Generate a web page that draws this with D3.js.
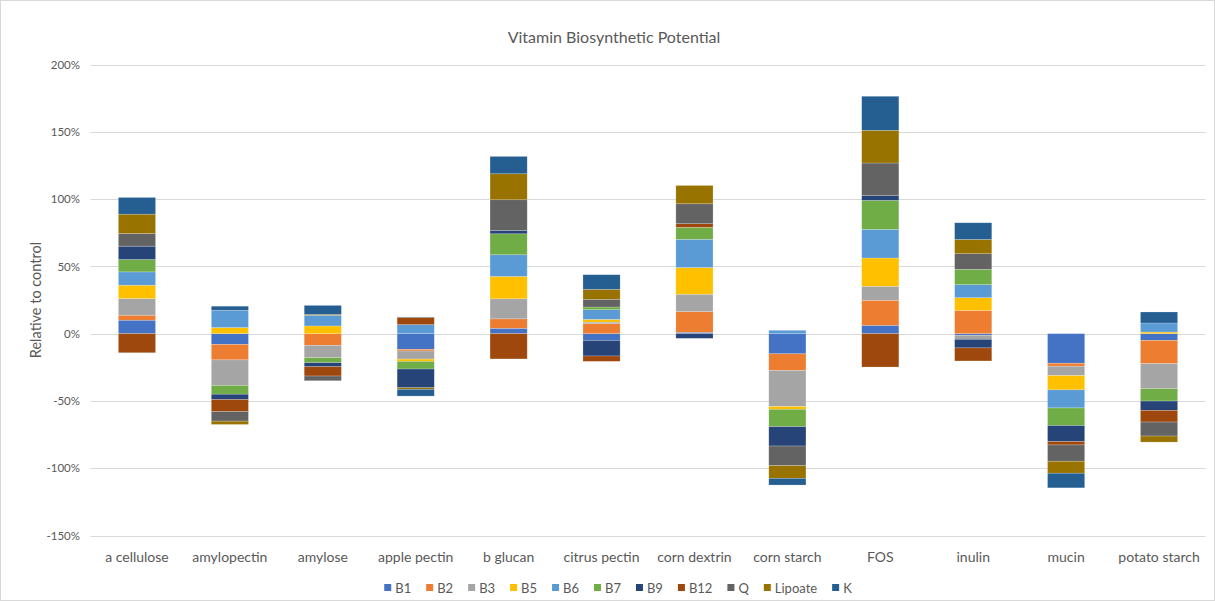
<!DOCTYPE html>
<html>
<head>
<meta charset="utf-8">
<script src="https://cdn.jsdelivr.net/npm/d3@7"></script>
<style>
body { margin: 0; background: #fff; }
svg text { font-family: Lato, "Liberation Sans", sans-serif; fill: #595959; }
</style>
</head>
<body>
<div id="chart"></div>
<script>
var categories = ["a cellulose", "amylopectin", "amylose", "apple pectin", "b glucan", "citrus pectin",
    "corn dextrin", "corn starch", "FOS", "inulin", "mucin", "potato starch"];

var seriesNames = ["B1", "B2", "B3", "B5", "B6", "B7", "B9", "B12", "Q", "Lipoate", "K"];
var seriesColors = ["#4472C4", "#ED7D31", "#A5A5A5", "#FFC000", "#5B9BD5", "#70AD47",
    "#264478", "#9E480E", "#636363", "#997300", "#255E91"];

// valeurs en % par rapport au controle
var B1 = [10, -8, 0, -11.7, 4, -5, 1, -15, 6.2, -1.2, -22, -5];
var B2 = [3.7, -11.5, -8.7, -1.2, 7, 7.4, 15.4, -12.4, 18.6, 17.3, -2.2, -17.3];
var B3 = [12.4, -19, -9.2, -6, 14.9, 1.2, 12.9, -26.8, 10.4, -3, -7, -18.6];
var B5 = [9.9, 4.5, 5.7, -1.7, 16.6, 2, 19.8, -2, 21, 9.4, -10.6, 1.2];
var B6 = [9.9, 12.9, 7.9, 6.7, 16.1, 7.2, 21, 2.5, 21.3, 9.7, -13.4, 6.7];
var B7 = [9.2, -6.5, -3.7, -5.7, 15.6, 2, 8.9, -12.9, 21.5, 11.4, -13.1, -9.2];
var B9 = [9.9, -4, -3, -13.9, 2.5, -11.6, -3.5, -14.4, 3.5, -6.4, -11.9, -6.9];
var B12 = [-14.2, -9, -6.9, 5.2, -18.8, -4, 2.7, 0, -24.8, -9.7, -2.5, -8.7];
var Q = [9.4, -7, -3.5, 0.5, 22.8, 5.7, 14.8, -14.6, 24.3, 11.6, -12.1, -10.4];
var Lipoate = [14.4, -2.5, 0.7, -1.2, 19.3, 7.4, 13.6, -9.4, 24.3, 10.6, -8.9, -4.5];
var K = [12.4, 3, 6.7, -5, 12.9, 10.9, 0, -5, 25.3, 12.4, -10.9, 8.2];

var yTicks = [-150, -100, -50, 0, 50, 100, 150, 200];

var seriesValues = [B1, B2, B3, B5, B6, B7, B9, B12, Q, Lipoate, K];

var largeur = 1215, hauteur = 601;
var marge = { gauche: 90.5, droite: 1205.5, haut: 64.5, bas: 535.5 };

var svg = d3.select("#chart").append("svg")
    .attr("width", largeur)
    .attr("height", hauteur);

svg.append("rect")
    .attr("x", 0.5).attr("y", 0.5)
    .attr("width", largeur - 1).attr("height", hauteur - 1)
    .attr("fill", "#fff")
    .attr("stroke", "#d9d9d9");

// table pour d3.stack
var table = categories.map(function (c, i) {
    var ligne = { cat: c };
    seriesNames.forEach(function (s, j) { ligne[s] = seriesValues[j][i]; });
    return ligne;
});

var stack = d3.stack().keys(seriesNames).offset(d3.stackOffsetDiverging);
var couches = stack(table);

var x = d3.scaleBand()
    .domain(categories)
    .range([marge.gauche, marge.droite])
    .paddingInner(0.6)
    .paddingOuter(0.3);

var y = d3.scaleLinear()
    .domain([-150, 200])
    .range([marge.bas, marge.haut]);

// grille
svg.append("g")
    .selectAll("line")
    .data(yTicks)
    .join("line")
    .attr("x1", marge.gauche)
    .attr("x2", marge.droite)
    .attr("y1", function (d) { return Math.round(y(d)) + 0.5; })
    .attr("y2", function (d) { return Math.round(y(d)) + 0.5; })
    .attr("stroke", "#d9d9d9")
    .attr("stroke-width", 1);

// axe y
var axeY = d3.axisLeft(y)
    .tickValues(yTicks)
    .tickSize(0)
    .tickPadding(0)
    .tickFormat(function (d) { return d + "%"; });

var gY = svg.append("g")
    .attr("transform", "translate(80,0)")
    .call(axeY);
gY.select(".domain").remove();
gY.selectAll("text")
    .style("font-size", "11.5px")
    .style("font-family", "Lato, 'Liberation Sans', sans-serif")
    .attr("fill", "#595959");

// barres
svg.append("g")
    .selectAll("g")
    .data(couches)
    .join("g")
    .attr("fill", function (d, i) { return seriesColors[i]; })
    .selectAll("rect")
    .data(function (d) { return d; })
    .join("rect")
    .attr("x", function (d) { return x(d.data.cat); })
    .attr("width", x.bandwidth())
    .attr("y", function (d) { return y(Math.max(d[0], d[1])); })
    .attr("height", function (d) { return Math.abs(y(d[0]) - y(d[1])); })
    .attr("stroke", "#ffffff")
    .attr("stroke-opacity", 0.35)
    .attr("stroke-width", 0.6);

// axe x (etiquettes en bas)
var axeX = d3.axisBottom(x).tickSize(0).tickPadding(0);
var gX = svg.append("g")
    .attr("transform", "translate(0," + (marge.bas + 17) + ")")
    .call(axeX);
gX.select(".domain").remove();
gX.selectAll("text")
    .style("font-size", "14px")
    .style("font-family", "Lato, 'Liberation Sans', sans-serif")
    .attr("fill", "#595959");

// titre
svg.append("text")
    .attr("x", 614)
    .attr("y", 43)
    .attr("text-anchor", "middle")
    .style("font-size", "16px")
    .text("Vitamin Biosynthetic Potential");

// titre axe y
svg.append("text")
    .attr("transform", "translate(41," + ((marge.haut + marge.bas) / 2) + ") rotate(-90)")
    .attr("text-anchor", "middle")
    .style("font-size", "14.5px")
    .text("Relative to control");

// legende
var legende = svg.append("g");
var posX = 0;
seriesNames.forEach(function (s, i) {
    var item = legende.append("g").attr("transform", "translate(" + posX + ",0)");
    item.append("rect")
        .attr("x", 0).attr("y", -4)
        .attr("width", 7).attr("height", 7)
        .attr("fill", seriesColors[i]);
    var t = item.append("text")
        .attr("x", 11).attr("y", 4.5)
        .style("font-size", "13px")
        .text(s);
    posX += 11 + t.node().getComputedTextLength() + 15;
});
var largeurLegende = posX - 15;
legende.attr("transform", "translate(" + (618 - largeurLegende / 2) + ",588)");
</script>
</body>
</html>
